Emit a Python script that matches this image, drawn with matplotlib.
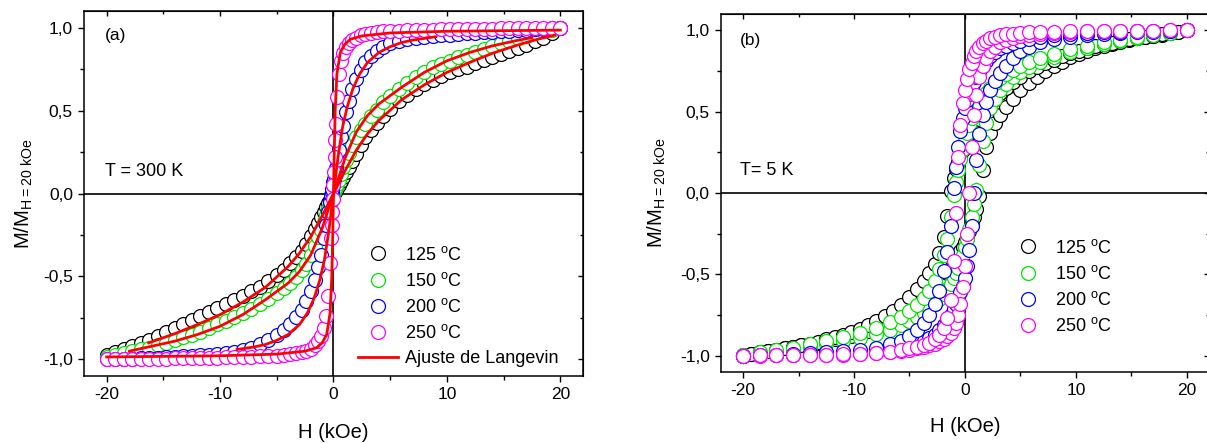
import matplotlib
matplotlib.use("Agg")
import matplotlib.pyplot as plt
from matplotlib.ticker import MultipleLocator, FuncFormatter

plt.rcParams["font.family"] = ["Liberation Sans", "DejaVu Sans"]
plt.rcParams["axes.unicode_minus"] = False

# ---------------- (a) T = 300 K ----------------
H_A = [-20.0, -19.25, -18.5, -17.75, -17.0, -16.25, -15.5, -14.75, -14.0, -13.25,
       -12.5, -11.75, -11.0, -10.25, -9.5, -8.75, -8.0, -7.25, -6.5, -5.75,
       -5.0, -4.4, -3.8, -3.3, -2.8, -2.4, -2.0, -1.65, -1.35, -1.1,
       -0.85, -0.65, -0.45, -0.3, -0.2, -0.15, -0.1, -0.05, 0.0,
       0.05, 0.1, 0.15, 0.2, 0.3, 0.45, 0.65, 0.85, 1.1, 1.35,
       1.65, 2.0, 2.4, 2.8, 3.3, 3.8, 4.4, 5.0, 5.75, 6.5,
       7.25, 8.0, 8.75, 9.5, 10.25, 11.0, 11.75, 12.5, 13.25, 14.0,
       14.75, 15.5, 16.25, 17.0, 17.75, 18.5, 19.25, 20.0]

M_A_125 = [-0.975, -0.957, -0.937, -0.918, -0.900, -0.881, -0.860, -0.836, -0.810, -0.787,
           -0.762, -0.738, -0.715, -0.693, -0.668, -0.642, -0.615, -0.590, -0.562, -0.530,
           -0.490, -0.458, -0.420, -0.385, -0.345, -0.305, -0.255, -0.213, -0.175, -0.143,
           -0.110, -0.084, -0.058, -0.039, -0.026, -0.019, -0.013, -0.006, 0.0,
           0.006, 0.012, 0.018, 0.024, 0.036, 0.054, 0.078, 0.102, 0.132, 0.162,
           0.198, 0.240, 0.290, 0.340, 0.385, 0.425, 0.470, 0.510, 0.555, 0.595,
           0.630, 0.660, 0.685, 0.710, 0.730, 0.750, 0.765, 0.785, 0.805, 0.822,
           0.838, 0.857, 0.875, 0.895, 0.918, 0.940, 0.965, 1.0]

M_A_150 = [-0.985, -0.973, -0.962, -0.951, -0.940, -0.929, -0.915, -0.899, -0.880, -0.865,
           -0.850, -0.832, -0.810, -0.788, -0.768, -0.746, -0.720, -0.695, -0.665, -0.634,
           -0.600, -0.570, -0.537, -0.505, -0.462, -0.425, -0.370, -0.315, -0.265, -0.220,
           -0.172, -0.132, -0.092, -0.062, -0.041, -0.031, -0.021, -0.010, 0.0,
           0.009, 0.019, 0.028, 0.037, 0.056, 0.083, 0.120, 0.160, 0.205, 0.245,
           0.290, 0.340, 0.385, 0.420, 0.465, 0.505, 0.550, 0.590, 0.632, 0.668,
           0.700, 0.735, 0.762, 0.783, 0.800, 0.820, 0.835, 0.852, 0.871, 0.890,
           0.905, 0.920, 0.935, 0.950, 0.965, 0.977, 0.988, 1.0]

M_A_200 = [-1.0, -0.998, -0.996, -0.995, -0.993, -0.991, -0.989, -0.987, -0.985, -0.982,
           -0.979, -0.975, -0.972, -0.967, -0.962, -0.955, -0.945, -0.930, -0.910, -0.885,
           -0.855, -0.825, -0.785, -0.745, -0.700, -0.650, -0.585, -0.520, -0.445, -0.370,
           -0.270, -0.190, -0.110, -0.050, -0.010, 0.010, 0.030, 0.050, 0.070,
           0.090, 0.110, 0.130, 0.155, 0.200, 0.260, 0.340, 0.410, 0.490, 0.560,
           0.630, 0.690, 0.745, 0.790, 0.830, 0.860, 0.885, 0.905, 0.920, 0.930,
           0.938, 0.945, 0.950, 0.955, 0.958, 0.962, 0.965, 0.968, 0.971, 0.974,
           0.977, 0.980, 0.983, 0.986, 0.989, 0.992, 0.996, 1.0]

M_A_250 = [-1.0, -0.999, -0.998, -0.998, -0.997, -0.996, -0.995, -0.995, -0.994, -0.993,
           -0.992, -0.991, -0.990, -0.989, -0.988, -0.987, -0.986, -0.984, -0.982, -0.980,
           -0.977, -0.974, -0.970, -0.964, -0.957, -0.948, -0.935, -0.915, -0.890, -0.860,
           -0.810, -0.740, -0.620, -0.420, -0.270, -0.190, -0.110, -0.030, 0.050,
           0.130, 0.220, 0.320, 0.420, 0.580, 0.720, 0.800, 0.850, 0.885, 0.905,
           0.925, 0.940, 0.953, 0.962, 0.968, 0.973, 0.977, 0.980, 0.982, 0.984,
           0.986, 0.987, 0.988, 0.989, 0.990, 0.991, 0.992, 0.993, 0.994, 0.994,
           0.995, 0.996, 0.997, 0.997, 0.998, 0.999, 0.999, 1.0]

# Langevin fits (red lines)
FIT_H_125 = [-16.3, -14, -12, -10, -8, -6, -4, -3, -2, -1, 0, 1, 2, 3, 4, 6, 8, 10, 12, 14, 16, 18, 19.5]
FIT_M_125 = [-0.90, -0.845, -0.79, -0.73, -0.655, -0.565, -0.44, -0.36, -0.26, -0.135, 0.0,
             0.135, 0.26, 0.36, 0.44, 0.565, 0.655, 0.73, 0.79, 0.845, 0.89, 0.93, 0.955]
FIT_H_150 = [-18, -16, -14, -12, -10, -8, -6, -4, -3, -2, -1, 0, 1, 2, 3, 4, 6, 8, 10, 12, 14, 16, 17.5]
FIT_M_150 = [-0.95, -0.92, -0.89, -0.85, -0.80, -0.73, -0.64, -0.54, -0.47, -0.37, -0.21, 0.0,
             0.21, 0.37, 0.47, 0.54, 0.64, 0.73, 0.80, 0.85, 0.89, 0.92, 0.94]
FIT_H_200 = [-8.5, -7, -6, -5, -4, -3, -2.3, -1.7, -1.2, -0.8, -0.4, 0, 0.4, 0.8, 1.2, 1.7, 2.3, 3, 4, 5, 6, 7, 9]
FIT_M_200 = [-0.94, -0.925, -0.91, -0.885, -0.85, -0.79, -0.72, -0.63, -0.52, -0.40, -0.22, 0.0,
             0.22, 0.40, 0.52, 0.63, 0.72, 0.79, 0.85, 0.885, 0.91, 0.925, 0.945]
FIT_H_250 = [-20, -10, -5, -2.5, -1.5, -1.0, -0.6, -0.3, -0.15, -0.05, 0, 0.05, 0.15, 0.3, 0.6, 1.0, 1.5, 2.5, 5, 10, 20]
FIT_M_250 = [-0.985, -0.978, -0.968, -0.95, -0.93, -0.90, -0.85, -0.72, -0.50, -0.20, 0.0,
             0.20, 0.50, 0.72, 0.85, 0.90, 0.93, 0.95, 0.968, 0.978, 0.985]

# ---------------- (b) T = 5 K ----------------
# 125 C sample was measured on a finer field grid
H_B125 = [-20.0, -19.25, -18.5, -17.75, -17.0, -16.25, -15.5, -14.75, -14.0, -13.25,
          -12.5, -11.75, -11.0, -10.25, -9.5, -8.75, -8.0, -7.25, -6.5, -5.75,
          -5.0, -4.3, -3.7, -3.2, -2.7, -2.3, -1.9, -1.6, -1.3, -1.0,
          -0.8, -0.6, -0.4, -0.2, 0.0, 0.2, 0.4, 0.6, 0.8, 1.0,
          1.3, 1.6, 1.9, 2.3, 2.7, 3.2, 3.7, 4.3, 5.0, 5.75,
          6.5, 7.25, 8.0, 8.75, 9.5, 10.25, 11.0, 11.75, 12.5, 13.25,
          14.0, 14.75, 15.5, 16.25, 17.0, 17.75, 18.5, 19.25, 20.0]

M_B_125_DOWN = [-0.995, -0.988, -0.980, -0.971, -0.962, -0.954, -0.945, -0.935, -0.925, -0.913,
                -0.900, -0.888, -0.875, -0.856, -0.835, -0.811, -0.785, -0.755, -0.723, -0.687,
                -0.640, -0.590, -0.540, -0.490, -0.435, -0.370, -0.270, -0.140, 0.010, 0.095,
                0.145, 0.190, 0.230, 0.265, 0.295, 0.325, 0.350, 0.375, 0.400, 0.425,
                0.455, 0.485, 0.515, 0.550, 0.580, 0.615, 0.645, 0.680, 0.715, 0.748,
                0.775, 0.800, 0.820, 0.840, 0.860, 0.875, 0.890, 0.902, 0.913, 0.924,
                0.935, 0.944, 0.952, 0.960, 0.967, 0.975, 0.983, 0.991, 1.0]
M_B_125_UP = [-1.0, -0.990, -0.980, -0.972, -0.965, -0.955, -0.945, -0.937, -0.930, -0.920,
              -0.910, -0.900, -0.890, -0.878, -0.865, -0.848, -0.830, -0.810, -0.785, -0.753,
              -0.720, -0.685, -0.650, -0.620, -0.585, -0.555, -0.520, -0.490, -0.460, -0.430,
              -0.410, -0.380, -0.355, -0.330, -0.300, -0.270, -0.235, -0.195, -0.150, -0.100,
              -0.020, 0.140, 0.280, 0.370, 0.430, 0.480, 0.530, 0.580, 0.630, 0.677,
              0.715, 0.748, 0.780, 0.808, 0.835, 0.855, 0.875, 0.890, 0.905, 0.918,
              0.930, 0.940, 0.950, 0.958, 0.965, 0.974, 0.982, 0.991, 1.0]

H_B = [-20.0, -18.5, -17.0, -15.5, -14.0, -12.5, -11.0, -9.5, -8.0, -6.8,
       -5.8, -5.0, -4.3, -3.7, -3.2, -2.7, -2.3, -1.9, -1.6, -1.3,
       -1.0, -0.8, -0.6, -0.4, -0.2, 0.0, 0.2, 0.4, 0.6, 0.8,
       1.0, 1.3, 1.6, 1.9, 2.3, 2.7, 3.2, 3.7, 4.3, 5.0,
       5.8, 6.8, 8.0, 9.5, 11.0, 12.5, 14.0, 15.5, 17.0, 18.5, 20.0]

# upper branch (field decreasing) and lower branch (field increasing)
M_B_150_DOWN = [-0.995, -0.980, -0.965, -0.950, -0.930, -0.910, -0.885, -0.860, -0.830, -0.795,
                -0.760, -0.725, -0.690, -0.645, -0.600, -0.540, -0.470, -0.380, -0.280, -0.150,
                -0.010, 0.070, 0.140, 0.210, 0.270, 0.320, 0.370, 0.420, 0.460, 0.490,
                0.520, 0.555, 0.585, 0.615, 0.645, 0.675, 0.705, 0.730, 0.755, 0.780,
                0.805, 0.830, 0.855, 0.882, 0.905, 0.925, 0.943, 0.958, 0.972, 0.985, 1.0]
M_B_150_UP = [-1.0, -0.985, -0.975, -0.960, -0.945, -0.930, -0.910, -0.890, -0.865, -0.840,
              -0.810, -0.785, -0.760, -0.735, -0.710, -0.680, -0.650, -0.620, -0.590, -0.560,
              -0.520, -0.490, -0.460, -0.420, -0.380, -0.330, -0.280, -0.220, -0.150, -0.070,
              0.020, 0.170, 0.320, 0.430, 0.520, 0.580, 0.630, 0.670, 0.710, 0.745,
              0.775, 0.805, 0.835, 0.865, 0.890, 0.915, 0.935, 0.955, 0.970, 0.985, 1.0]

M_B_200_DOWN = [-1.0, -0.996, -0.993, -0.990, -0.985, -0.980, -0.972, -0.963, -0.950, -0.930,
                -0.910, -0.880, -0.845, -0.800, -0.750, -0.680, -0.600, -0.480, -0.360, -0.200,
                0.030, 0.160, 0.280, 0.380, 0.460, 0.520, 0.570, 0.610, 0.650, 0.680,
                0.710, 0.750, 0.780, 0.810, 0.840, 0.865, 0.890, 0.905, 0.920, 0.935,
                0.947, 0.958, 0.968, 0.977, 0.983, 0.987, 0.990, 0.993, 0.995, 0.997, 1.0]
M_B_200_UP = [-1.0, -0.997, -0.995, -0.993, -0.990, -0.988, -0.984, -0.978, -0.970, -0.960,
              -0.950, -0.940, -0.925, -0.910, -0.890, -0.870, -0.840, -0.810, -0.780, -0.750,
              -0.710, -0.680, -0.650, -0.610, -0.570, -0.520, -0.450, -0.350, -0.200, 0.0,
              0.200, 0.360, 0.480, 0.560, 0.630, 0.690, 0.740, 0.780, 0.830, 0.870,
              0.900, 0.925, 0.945, 0.960, 0.970, 0.978, 0.984, 0.988, 0.992, 0.996, 1.0]

M_B_250_DOWN = [-1.0, -0.998, -0.997, -0.996, -0.995, -0.994, -0.992, -0.990, -0.983, -0.975,
                -0.965, -0.955, -0.945, -0.935, -0.920, -0.900, -0.875, -0.830, -0.770, -0.660,
                -0.420, -0.120, 0.220, 0.420, 0.550, 0.630, 0.700, 0.760, 0.800, 0.840,
                0.870, 0.900, 0.920, 0.935, 0.950, 0.960, 0.970, 0.975, 0.980, 0.985,
                0.988, 0.990, 0.992, 0.994, 0.995, 0.996, 0.997, 0.998, 0.998, 0.999, 1.0]
M_B_250_UP = [-1.0, -0.999, -0.998, -0.997, -0.996, -0.995, -0.993, -0.990, -0.985, -0.978,
              -0.972, -0.965, -0.955, -0.945, -0.935, -0.925, -0.910, -0.895, -0.880, -0.860,
              -0.830, -0.800, -0.750, -0.680, -0.580, -0.450, -0.250, 0.0, 0.280, 0.480,
              0.600, 0.710, 0.780, 0.830, 0.870, 0.900, 0.925, 0.940, 0.955, 0.965,
              0.972, 0.978, 0.985, 0.990, 0.993, 0.995, 0.996, 0.997, 0.998, 0.999, 1.0]

LABELS = ["125", "150", "200", "250"]
COLORS = ["#000000", "#00e400", "#0000ff", "#ff00ff"]


def deg_label(t):
    return t + r" $\mathregular{^{o}}$C"


def style(ax):
    ax.set_xlim(-22, 22)
    ax.set_ylim(-1.1, 1.1)
    ax.axhline(0, color="black", lw=1.2, zorder=1)
    ax.axvline(0, color="black", lw=1.2, zorder=1)
    ax.set_xticks([-20, -10, 0, 10, 20])
    ax.set_yticks([-1.0, -0.5, 0.0, 0.5, 1.0])
    ax.xaxis.set_minor_locator(MultipleLocator(5))
    ax.yaxis.set_minor_locator(MultipleLocator(0.25))
    ax.yaxis.set_major_formatter(FuncFormatter(lambda v, p: f"{v:.1f}".replace(".", ",")))
    ax.tick_params(which="both", direction="out", labelsize=12.5, width=1.0)
    ax.tick_params(which="major", length=4.5)
    ax.tick_params(which="minor", length=3)
    for s in ax.spines.values():
        s.set_linewidth(1.1)
    top = ax.secondary_xaxis("top")
    top.set_xticks([-20, -10, 0, 10, 20])
    top.xaxis.set_minor_locator(MultipleLocator(5))
    top.tick_params(which="both", direction="in", labeltop=False, width=1.0)
    top.tick_params(which="major", length=3.5)
    top.tick_params(which="minor", length=2.5)
    right = ax.secondary_yaxis("right")
    right.set_yticks([-1.0, -0.5, 0.0, 0.5, 1.0])
    right.yaxis.set_minor_locator(MultipleLocator(0.25))
    right.tick_params(which="both", direction="in", labelright=False, width=1.0)
    right.tick_params(which="major", length=3.5)
    right.tick_params(which="minor", length=2.5)
    ax.set_xlabel("H (kOe)", fontsize=14.5)
    ax.set_ylabel(r"M/M$\mathregular{_{H{=}20\ kOe}}$", fontsize=14.5)


fig = plt.figure(figsize=(12.07, 4.43), dpi=100)
ax_a = fig.add_axes([0.0696, 0.1512, 0.4134, 0.8239])
ax_b = fig.add_axes([0.5973, 0.1603, 0.4043, 0.8081])

mk = dict(ls="none", marker="o", ms=10, mfc="white", mew=0.9)
leg = dict(loc="upper left", frameon=False, fontsize=13, handlelength=2.2,
           handletextpad=0.4, labelspacing=0.45, borderpad=0, borderaxespad=0)

# panel (a)
for m, lab, c in zip([M_A_125, M_A_150, M_A_200, M_A_250], LABELS, COLORS):
    ax_a.plot(H_A, m, mec=c, label=deg_label(lab), zorder=3, **mk)
fits = [(FIT_H_125, FIT_M_125), (FIT_H_150, FIT_M_150), (FIT_H_200, FIT_M_200), (FIT_H_250, FIT_M_250)]
for i, (fh, fm) in enumerate(fits):
    ax_a.plot(fh, fm, color="#ff0000", lw=2.0, zorder=4,
              label="Ajuste de Langevin" if i == 0 else None)
style(ax_a)
ax_a.yaxis.set_label_coords(-0.098, 0.5)
ax_a.xaxis.set_label_coords(0.5, -0.13)
ax_a.text(0.042, 0.934, "(a)", transform=ax_a.transAxes, fontsize=12.5, va="center")
ax_a.text(0.042, 0.559, "T = 300 K", transform=ax_a.transAxes, fontsize=13, va="center")
ax_a.legend(bbox_to_anchor=(0.549, 0.357), **leg)

# panel (b)
b_sets = [(H_B125, M_B_125_DOWN, M_B_125_UP), (H_B, M_B_150_DOWN, M_B_150_UP),
          (H_B, M_B_200_DOWN, M_B_200_UP), (H_B, M_B_250_DOWN, M_B_250_UP)]
for (h, md, mu), lab, c in zip(b_sets, LABELS, COLORS):
    ax_b.plot(h, mu, mec=c, zorder=3, **mk)
    ax_b.plot(h, md, mec=c, label=deg_label(lab), zorder=3, **mk)
style(ax_b)
ax_b.yaxis.set_label_coords(-0.109, 0.5)
ax_b.xaxis.set_label_coords(0.5, -0.125)
ax_b.text(0.039, 0.927, "(b)", transform=ax_b.transAxes, fontsize=12.5, va="center")
ax_b.text(0.039, 0.564, "T= 5 K", transform=ax_b.transAxes, fontsize=13, va="center")
ax_b.legend(bbox_to_anchor=(0.588, 0.372), **leg)

fig.savefig("out.png", dpi=100)
